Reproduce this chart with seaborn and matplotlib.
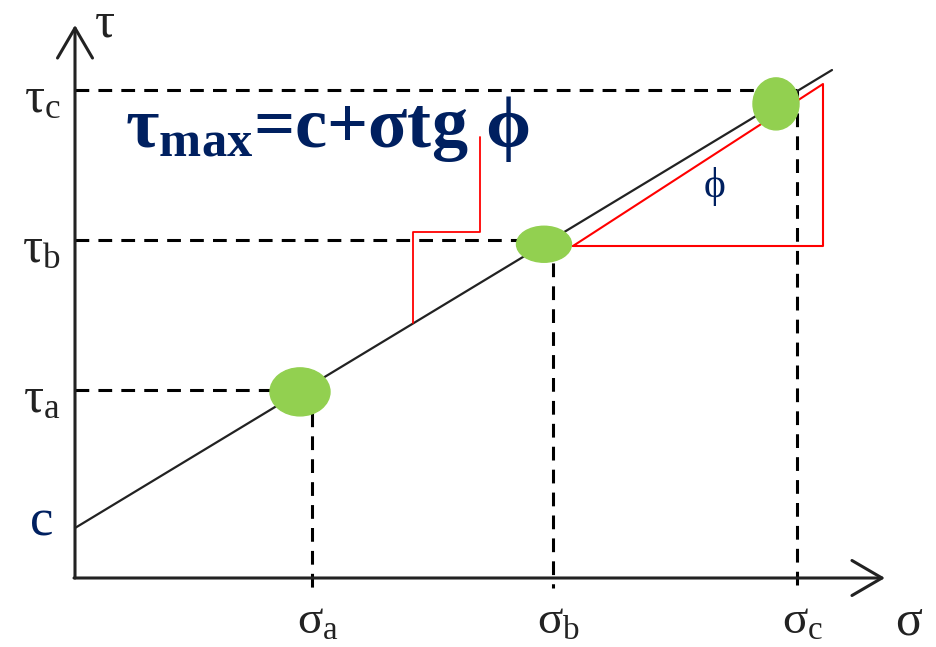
import numpy as np
import pandas as pd
import seaborn as sns
import matplotlib.pyplot as plt
from matplotlib.patches import Ellipse

# Mohr-Coulomb envelope values (arbitrary units)
c = 5.0
tan_phi = 0.605
sigma = [23.7, 47.8, 72.2]          # sigma_a, sigma_b, sigma_c
tau = [18.8, 33.8, 48.8]            # tau_a, tau_b, tau_c
pt_sigma = [22.5, 46.9, 70.1]       # centres of the green test points
pt_names = ["a", "b", "c"]
line_sigma = [0.0, 75.7]

sns.set_theme(style="white")
plt.rcParams["font.family"] = ["Liberation Serif", "DejaVu Serif"]
plt.rcParams["mathtext.fontset"] = "custom"
plt.rcParams["mathtext.rm"] = "Liberation Serif"
plt.rcParams["mathtext.it"] = "Liberation Serif"
plt.rcParams["mathtext.bf"] = "Liberation Serif:bold"

navy = "#002060"
green = "#92D050"
red = "#FF0000"
ink = "#222222"

fig = plt.figure(figsize=(9.36, 6.47), dpi=100)
ax = fig.add_axes([0, 0, 1, 1])
ax.set_xlim(-7.5, 86.1)
ax.set_ylim(-6.9, 57.8)
ax.axis("off")

# envelope line
env = pd.DataFrame({"sigma": line_sigma})
env["tau"] = c + tan_phi * env["sigma"]
sns.lineplot(data=env, x="sigma", y="tau", color=ink, lw=1.6, ax=ax, zorder=3)

# dashed guide lines
dash = (0, (4.5, 3))
for s, t in zip(sigma, tau):
    ax.plot([0, s], [t, t], color="black", lw=2.2, ls=dash, zorder=2)
    ax.plot([s, s], [t, -1.0], color="black", lw=2.2, ls=dash, zorder=2)

# axes with open arrowheads
arrow = dict(arrowstyle="->,head_length=1.8,head_width=1.05", lw=2.2, color=ink,
             shrinkA=0, shrinkB=0)
ax.annotate("", xy=(0, 55.3), xytext=(0, 0), arrowprops=arrow, zorder=4)
ax.annotate("", xy=(81.0, 0), xytext=(-0.1, 0), arrowprops=arrow, zorder=4)

# green test points
sizes = [(6.0, 4.8), (5.5, 3.6), (4.6, 5.2)]
for s, (w, h) in zip(pt_sigma, sizes):
    ax.add_patch(Ellipse((s, c + tan_phi * s), w, h, color=green, zorder=5))

# red friction-angle triangle and leader line
tri_x = [49.8, 74.8, 74.8, 49.8]
tri_y = [33.2, 49.4, 33.2, 33.2]
ax.plot(tri_x, tri_y, color=red, lw=1.5, zorder=4)
ax.plot([33.8, 33.8, 40.5, 40.5], [25.5, 34.6, 34.6, 44.1], color=red, lw=1.3, zorder=4)

# labels
fs = 36
for n, s, t in zip(pt_names, sigma, tau):
    ax.text(-1.4, t - 1.0, "τ$_\\mathrm{%s}$" % n, fontsize=fs, ha="right", va="center",
            color=ink)
    ax.text(s + 0.6, -4.4, "σ$_\\mathrm{%s}$" % n, fontsize=34, ha="center", va="center",
            color=ink)
ax.text(3.0, 55.4, "τ", fontsize=fs, ha="center", va="center", color=ink)
ax.text(83.4, -4.4, "σ", fontsize=fs, ha="center", va="center", color=ink)
ax.text(-2.2, 5.6, "c", fontsize=38, ha="right", va="center", color=navy)
ax.text(64.0, 39.1, "ϕ", fontsize=30, ha="center", va="center", color=navy)

ax.text(5.0, 43.1, "τ$_{\\mathbf{max}}$=c+σtg ϕ", fontsize=52, fontweight="bold",
        color=navy, ha="left", va="baseline")

fig.savefig("out.png", dpi=100)
